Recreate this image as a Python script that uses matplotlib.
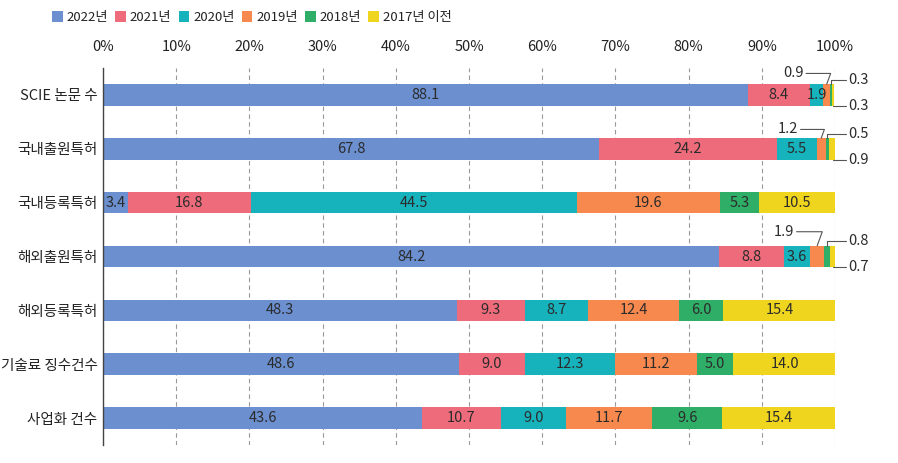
import matplotlib
matplotlib.use("Agg")
import matplotlib.pyplot as plt
import numpy as np

plt.rcParams['font.family'] = ['Noto Sans CJK KR', 'DejaVu Sans']

categories = ['SCIE 논문 수', '국내출원특허', '국내등록특허', '해외출원특허', '해외등록특허', '기술료 징수건수', '사업화 건수']
series = ['2022년', '2021년', '2020년', '2019년', '2018년', '2017년 이전']
v2022 = [88.1, 67.8, 3.4, 84.2, 48.3, 48.6, 43.6]
v2021 = [8.4, 24.2, 16.8, 8.8, 9.3, 9.0, 10.7]
v2020 = [1.9, 5.5, 44.5, 3.6, 8.7, 12.3, 9.0]
v2019 = [0.9, 1.2, 19.6, 1.9, 12.4, 11.2, 11.7]
v2018 = [0.3, 0.5, 5.3, 0.8, 6.0, 5.0, 9.6]
v2017 = [0.3, 0.9, 10.5, 0.7, 15.4, 14.0, 15.4]
xticks = [0, 10, 20, 30, 40, 50, 60, 70, 80, 90, 100]
xticklabels = [f'{t}%' for t in xticks]

colors = ['#6b8fcf', '#ee6b7b', '#16b3bd', '#f7894f', '#2fae67', '#f0d51e']
data = [v2022, v2021, v2020, v2019, v2018, v2017]

fig = plt.figure(figsize=(8.98, 4.63), dpi=100)
ax = fig.add_axes([0.1147, 0.039, 0.8153, 0.814])

y = np.arange(len(categories))
left = np.zeros(len(categories))
# small segments annotated outside: (category index, series index)
outside = {(0, 3), (0, 4), (0, 5), (1, 3), (1, 4), (1, 5), (3, 3), (3, 4), (3, 5)}
seg_centers = {}
for si, vals in enumerate(data):
    vals = np.array(vals)
    ax.barh(y, vals, left=left, height=0.4, color=colors[si], label=series[si], zorder=2)
    for ci in range(len(categories)):
        cx = left[ci] + vals[ci] / 2
        seg_centers[(ci, si)] = cx
        if (ci, si) not in outside:
            ax.text(cx, y[ci], f'{vals[ci]:.1f}', ha='center', va='center',
                    fontsize=10.5, color='#2b2b2b', zorder=3)
    left += vals

line_kw = dict(arrowstyle='-', color='#555555', lw=0.8, shrinkA=0, shrinkB=0)
tops = {0: -0.40, 1: -0.36, 3: -0.46}
for ci in [0, 1, 3]:
    # orange (2019) label upper-left
    v = data[3][ci]
    cx = seg_centers[(ci, 3)]
    ty = tops[ci]
    ax.annotate(f'{v:.1f}', xy=(cx, ci - 0.2), xytext=(cx - 3.2, ci + ty),
                ha='right', va='center', fontsize=10.5, color='#2b2b2b',
                arrowprops=dict(connectionstyle='angle,angleA=0,angleB=70', **line_kw),
                annotation_clip=False)
    # green (2018) label upper-right
    v = data[4][ci]
    cx = seg_centers[(ci, 4)]
    ax.annotate(f'{v:.1f}', xy=(cx, ci - 0.2), xytext=(101.8, ci - 0.28),
                ha='left', va='center', fontsize=10.5, color='#2b2b2b',
                arrowprops=dict(connectionstyle='angle,angleA=0,angleB=90', **line_kw),
                annotation_clip=False)
    # yellow (2017) label lower-right
    v = data[5][ci]
    cx = seg_centers[(ci, 5)]
    ax.annotate(f'{v:.1f}', xy=(cx, ci + 0.2), xytext=(101.8, ci + 0.2),
                ha='left', va='center', fontsize=10.5, color='#2b2b2b',
                arrowprops=dict(connectionstyle='angle,angleA=0,angleB=90', **line_kw),
                annotation_clip=False)

ax.set_xlim(0, 100)
ax.set_ylim(6.5, -0.5)
ax.set_yticks(y)
ax.set_yticklabels(categories, fontsize=10.5, color='#222222')
ax.set_xticks(xticks)
ax.set_xticklabels(xticklabels, fontsize=10.5, color='#222222')
ax.xaxis.tick_top()
ax.tick_params(axis='both', length=0, pad=4)
ax.tick_params(axis='x', pad=10)
for s in ['top', 'right', 'bottom']:
    ax.spines[s].set_visible(False)
ax.spines['left'].set_color('#444444')
ax.spines['left'].set_linewidth(1.0)
ax.grid(axis='x', linestyle=(0, (4, 3)), color='#999999', linewidth=0.8, zorder=0)
ax.grid(axis='y', visible=False)
ax.set_axisbelow(True)

fig.legend(loc='center left', bbox_to_anchor=(52 / 898, 0.962), ncol=6, frameon=False,
           fontsize=9.5, handlelength=0.8, handleheight=0.8, handletextpad=0.3,
           columnspacing=0.55, labelcolor='#222222', borderaxespad=0, borderpad=0)

fig.savefig('out.png', dpi=100)
